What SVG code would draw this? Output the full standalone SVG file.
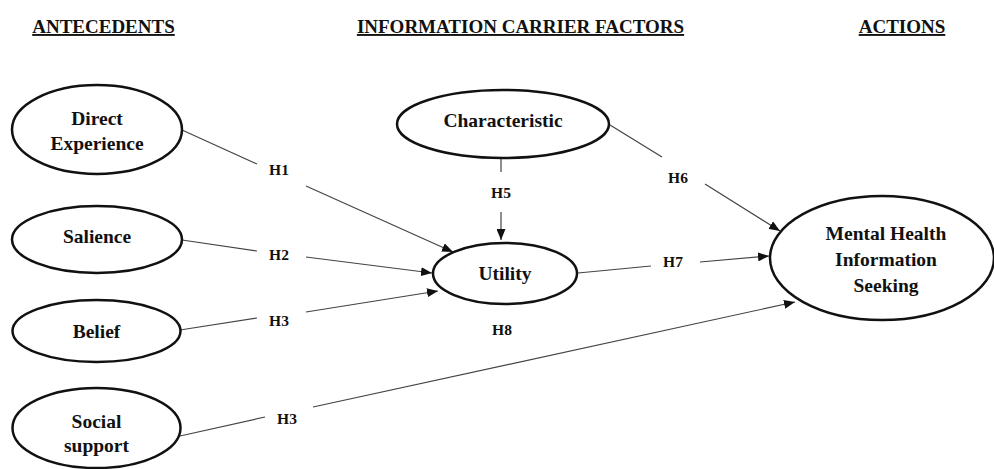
<svg xmlns="http://www.w3.org/2000/svg" width="994" height="469" viewBox="0 0 994 469">
<defs>
<marker id="arr" markerUnits="userSpaceOnUse" markerWidth="11" markerHeight="9" refX="11" refY="4.5" orient="auto">
<path d="M0,0 L11,4.5 L0,9 z" fill="#111"/>
</marker>
<style>
text{font-family:"Liberation Serif","Times New Roman",serif;font-weight:bold;fill:#111;text-anchor:middle}
.hd{font-size:19px;text-decoration:underline}
.nl{font-size:19.5px}
.hl{font-size:15.5px}
ellipse{fill:#fff;stroke:#111;stroke-width:2.5}
.c line{stroke:#444;stroke-width:1.2;fill:none}
</style>
</defs>
<rect width="994" height="469" fill="#fff"/>
<g id="headers">
<text class="hd" x="103.5" y="33">ANTECEDENTS</text>
<text class="hd" x="520.5" y="33">INFORMATION CARRIER FACTORS</text>
<text class="hd" x="902" y="33">ACTIONS</text>
</g>
<g id="connectors" class="c">
<line x1="182" y1="130" x2="257" y2="164"/>
<line x1="306" y1="186" x2="453" y2="252" marker-end="url(#arr)"/>
<line x1="182" y1="240" x2="257" y2="251"/>
<line x1="306" y1="257" x2="432" y2="273" marker-end="url(#arr)"/>
<line x1="180" y1="330" x2="257" y2="318"/>
<line x1="306" y1="312" x2="438" y2="291" marker-end="url(#arr)"/>
<line x1="180" y1="436" x2="265" y2="417"/>
<line x1="313" y1="407" x2="795" y2="302" marker-end="url(#arr)"/>
<line x1="501" y1="158" x2="501" y2="172"/>
<line x1="501" y1="212" x2="501" y2="240" marker-end="url(#arr)"/>
<line x1="610" y1="125" x2="662" y2="157"/>
<line x1="705" y1="184" x2="780" y2="231" marker-end="url(#arr)"/>
<line x1="578" y1="273" x2="651" y2="266"/>
<line x1="700" y1="262" x2="769" y2="256" marker-end="url(#arr)"/>
</g>
<g id="labels">
<text class="hl" x="279" y="175">H1</text>
<text class="hl" x="279" y="260">H2</text>
<text class="hl" x="279" y="326">H3</text>
<text class="hl" x="287" y="424">H3</text>
<text class="hl" x="501" y="198">H5</text>
<text class="hl" x="678" y="183">H6</text>
<text class="hl" x="673" y="267">H7</text>
<text class="hl" x="502" y="335">H8</text>
</g>
<g id="direct-experience">
<ellipse cx="97" cy="129.5" rx="85" ry="44.5"/>
<text class="nl" x="97" y="125">Direct</text>
<text class="nl" x="97" y="150">Experience</text>
</g>
<g id="salience">
<ellipse cx="97" cy="239.5" rx="85" ry="33.5"/>
<text class="nl" x="97" y="243">Salience</text>
</g>
<g id="belief">
<ellipse cx="96.5" cy="331" rx="84" ry="31"/>
<text class="nl" x="96.5" y="338">Belief</text>
</g>
<g id="social-support">
<ellipse cx="96.5" cy="428" rx="84" ry="40"/>
<text class="nl" x="96.5" y="428">Social</text>
<text class="nl" x="96.5" y="452">support</text>
</g>
<g id="characteristic">
<ellipse cx="503" cy="124" rx="106" ry="34"/>
<text class="nl" x="503" y="127">Characteristic</text>
</g>
<g id="utility">
<ellipse cx="505" cy="273.5" rx="72" ry="30.5"/>
<text class="nl" x="505" y="280">Utility</text>
</g>
<g id="mental-health">
<ellipse cx="882" cy="258" rx="112" ry="62"/>
<text class="nl" x="886" y="240">Mental Health</text>
<text class="nl" x="886" y="266">Information</text>
<text class="nl" x="886" y="292">Seeking</text>
</g>
</svg>
